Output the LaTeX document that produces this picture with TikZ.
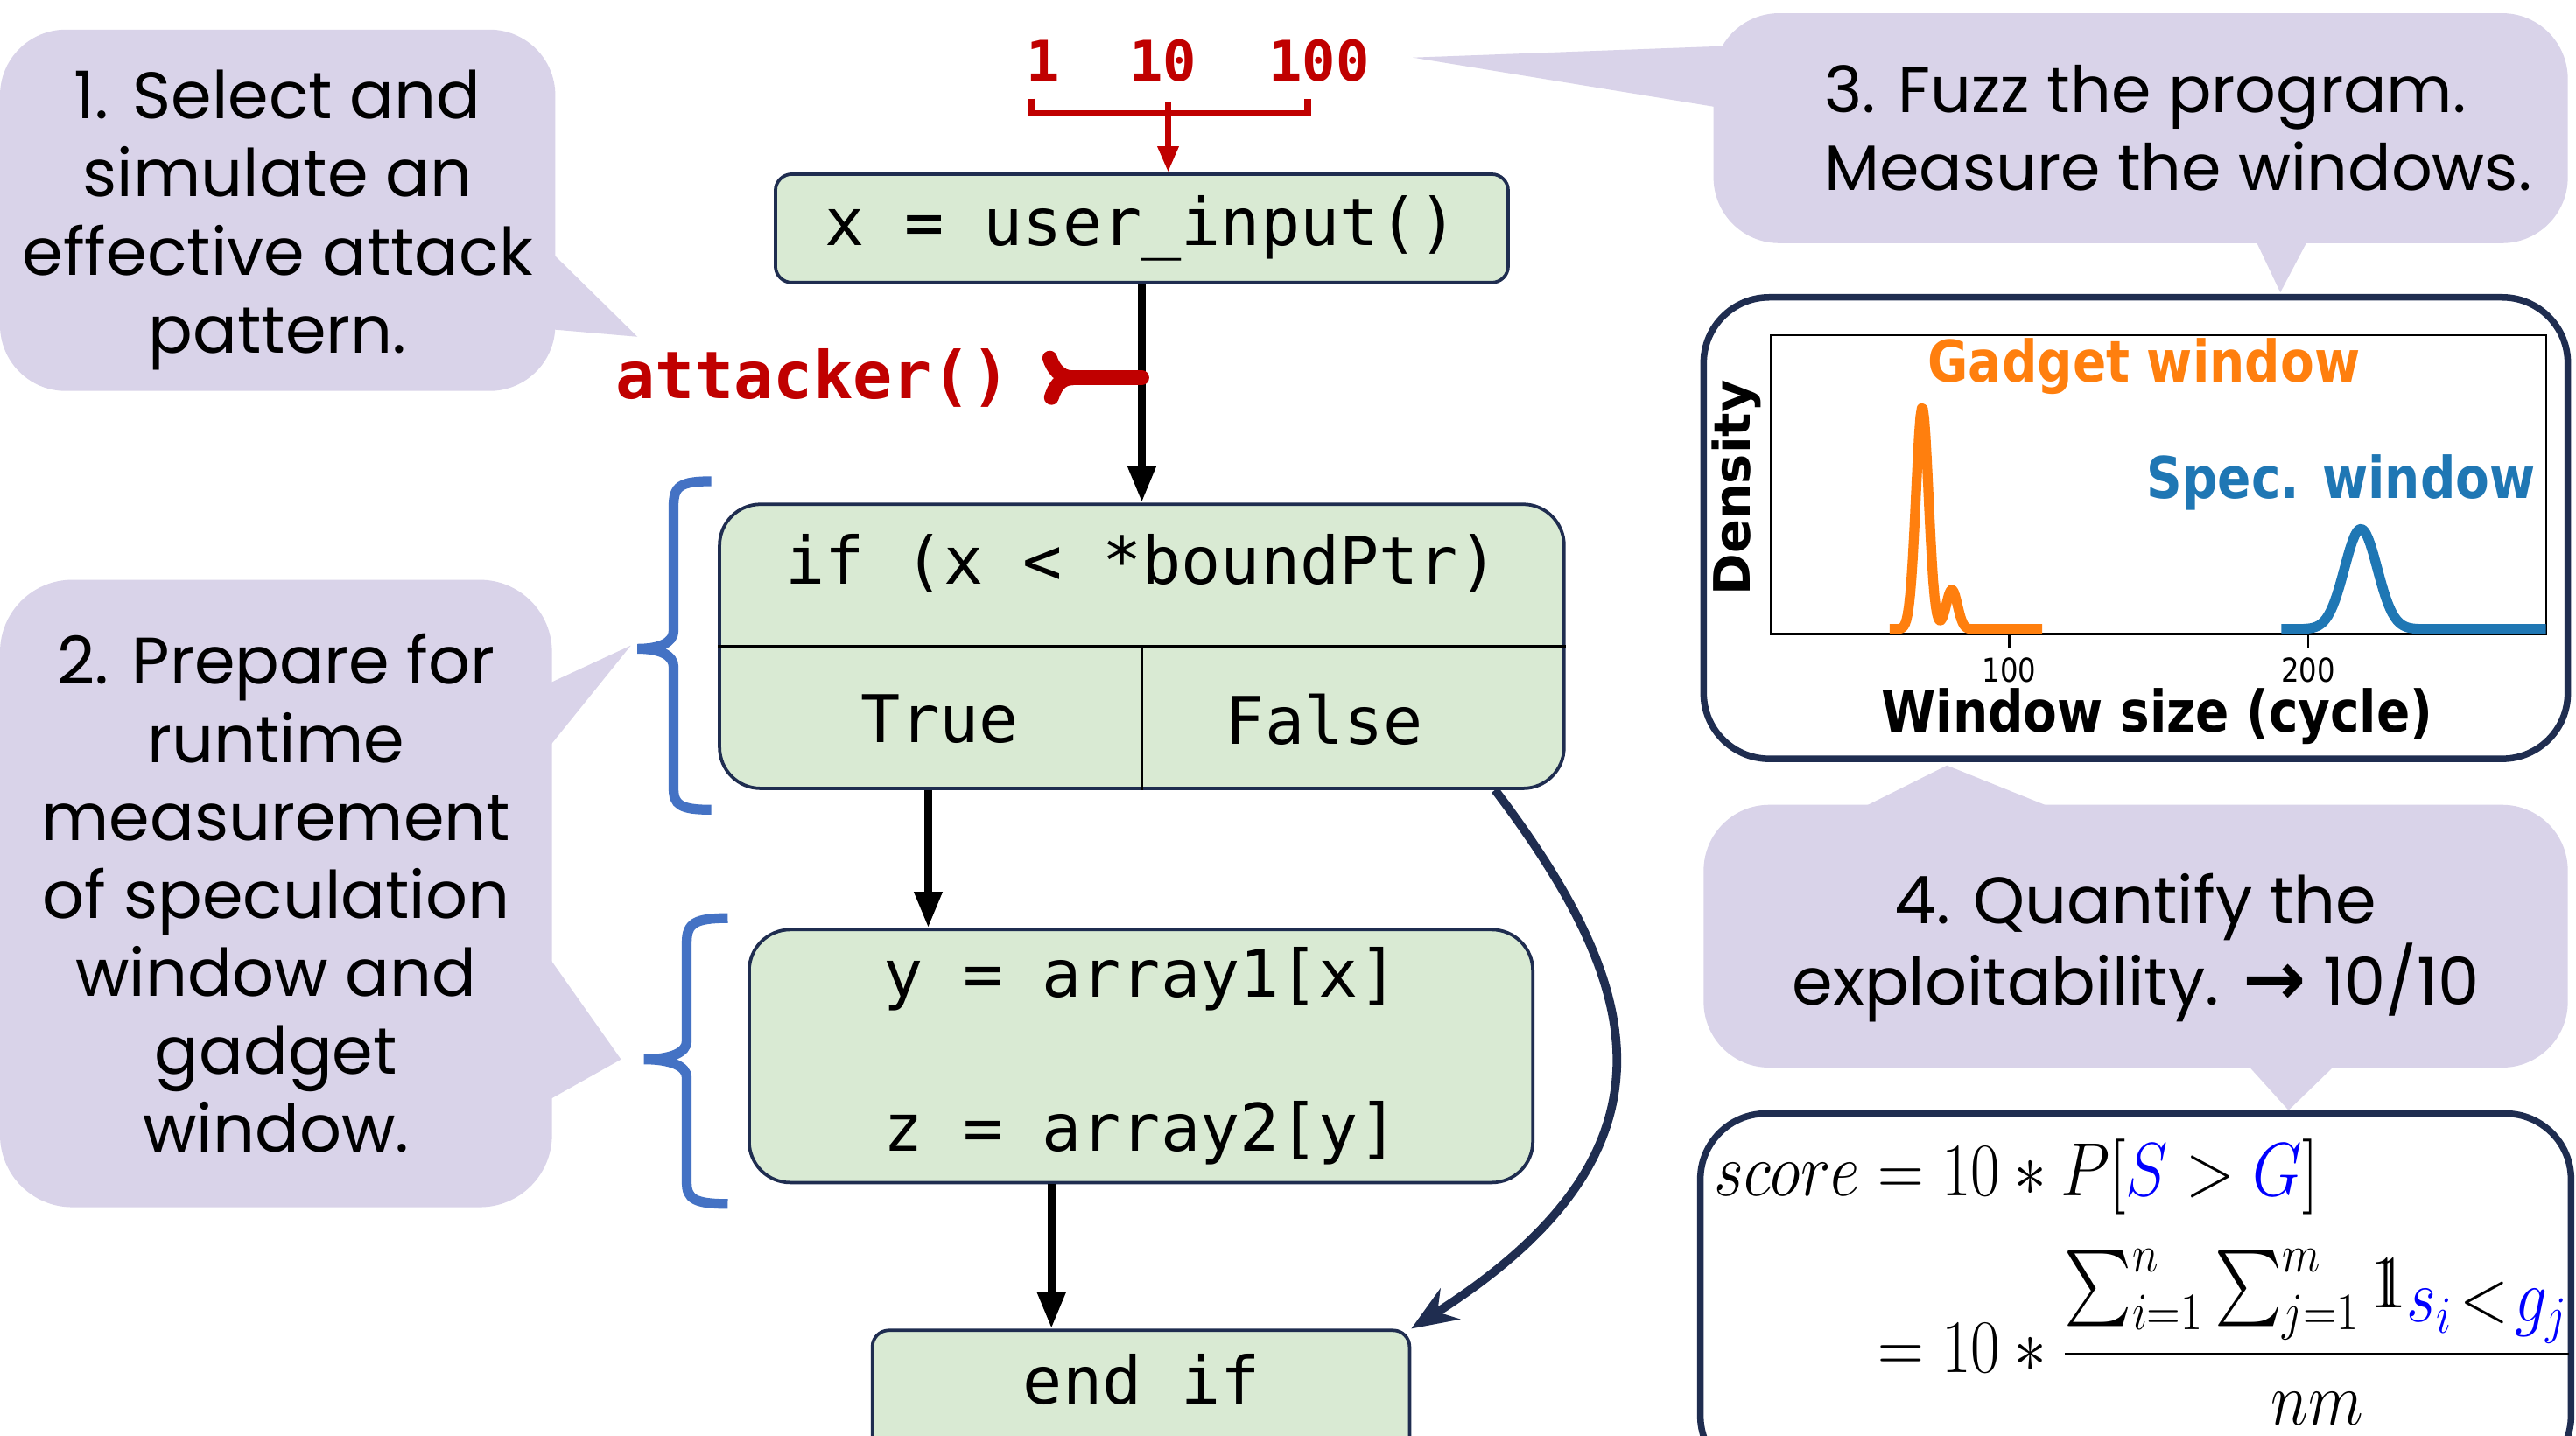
\documentclass[tikz,border=0pt]{standalone}
\usepackage[T1]{fontenc}
\usepackage{fontspec}
\usepackage{amsmath}
\usepackage{xcolor}
\IfFileExists{dsfont.sty}{\usepackage{dsfont}\newcommand\indic{\mathds{1}}}{\newcommand\indic{\mathrm{1}\mkern-6.5mu\mathrm{1}}}
\usetikzlibrary{arrows.meta,positioning}
\newfontfamily\codefont{DejaVu Sans Mono}
\newfontfamily\plotfont{DejaVu Sans}[FakeStretch=0.86]
\newfontfamily\symfont{DejaVu Sans}
\IfFileExists{t1qag.fd}{\newcommand\gothic{\fontencoding{T1}\fontfamily{qag}\selectfont}}{\newfontfamily\gothic{Poppins}}
\definecolor{bubblefill}{HTML}{D9D3E9}
\definecolor{codegreen}{HTML}{D9EAD3}
\definecolor{navy}{HTML}{1F2D50}
\definecolor{attackred}{HTML}{C00000}
\definecolor{braceblue}{HTML}{4472C4}
\definecolor{gadget}{HTML}{FF7F0E}
\definecolor{spec}{HTML}{1F77B4}

\begin{document}
\begin{tikzpicture}[x=0.5pt, y=-0.5pt,
    every node/.style={inner sep=0pt},
    bubble/.style={fill=bubblefill, rounded corners=20pt},
    steptext/.style={align=center, font=\gothic\fontsize{20}{23.75}\selectfont},
    codebox/.style={draw=navy, fill=codegreen, line width=1pt, rounded corners=5pt},
    code/.style={font=\codefont\fontsize{20}{24}\selectfont},
    ar/.style={-{Triangle[length=11pt,width=8pt]}, line width=2.5pt},
    redar/.style={-{Triangle[length=8pt,width=6pt]}, line width=2pt, attackred},
    navyar/.style={-{Stealth[length=14pt,width=11pt]}, line width=2.6pt, navy},
    fork/.style={line width=4.5pt, attackred, line cap=round},
    lbrace/.style={line width=3pt, braceblue},
    plotbox/.style={draw=navy, fill=white, line width=2pt, rounded corners=20pt},
    curve/.style={line width=3pt, line join=round},
    plotlbl/.style={font=\plotfont\bfseries\fontsize{17.5}{20}\selectfont}
  ]
  \useasboundingbox (0,0) rectangle (1568,874);
  \fill[white] (0,0) rectangle (1568,874);

  % speech bubbles
  \node[bubble, minimum width=169pt, minimum height=110pt] (step1) at (169,128) {};
  \node[steptext] (step1txt) at (169,134) {1. Select and\\simulate an\\effective attack\\pattern.};
  \fill[bubblefill] (330,148) -- (388,205) -- (330,200) -- cycle;
  \node[bubble, rounded corners=22pt, minimum width=168pt, minimum height=191pt] (step2) at (168,544) {};
  \node[steptext] (step2txt) at (168,544)
    {2. Prepare for\\runtime\\measurement\\of speculation\\window and\\gadget\\window.};
  \fill[bubblefill] (330,418) -- (384,393) -- (330,460) -- cycle;
  \fill[bubblefill] (330,577) -- (378,645) -- (330,672) -- cycle;
  \node[bubble, minimum width=260pt, minimum height=70pt] (step3) at (1303,78) {};
  \node[steptext, font=\gothic\fontsize{19.5}{23.75}\selectfont, anchor=west, align=left] (step3txt) at (1110,78)
    {3. Fuzz the program.\\Measure the windows.};
  \fill[bubblefill] (1050,28) -- (860,35) -- (1050,66) -- cycle;
  \fill[bubblefill] (1370,140) -- (1388,178) -- (1408,140) -- cycle;
  \node[bubble, minimum width=263pt, minimum height=80pt] (step4) at (1300,570) {};
  \node[steptext] (step4txt) at (1300,577)
    {4. Quantify the\\exploitability. {\symfont\bfseries\fontsize{23}{24}\selectfont →} 10/10};
  \fill[bubblefill] (1127,495) -- (1185,466) -- (1257,495) -- cycle;
  \fill[bubblefill] (1365,645) -- (1393,676) -- (1425,645) -- cycle;

  % program
  \node[code, font=\codefont\bfseries\fontsize{17}{20}\selectfont, attackred] (n1) at (635,37) {1};
  \node[code, font=\codefont\bfseries\fontsize{17}{20}\selectfont, attackred] (n10) at (708,37) {10};
  \node[code, font=\codefont\bfseries\fontsize{17}{20}\selectfont, attackred] (n100) at (803,37) {100};
  \coordinate (brk) at (711,62);
  \draw[line width=2pt, attackred] (628,60) -- (628,69) -- (796,69) -- (796,60);

  \node[codebox, code, minimum width=223pt, minimum height=33pt] (input) at (695,139) {x = user\_input()};
  \draw[redar] (brk) -- (brk |- input.north);

  \node[codebox, rounded corners=12.5pt, minimum width=257pt, minimum height=86.5pt] (cond) at (695,393.5) {};
  \draw[line width=1pt] (cond.west) -- (cond.east);
  \draw[line width=0.8pt] (cond.center) -- (cond.south);
  \node[code] (iftxt) at (695,343) {if (x < *boundPtr)};
  \node[code] (truetxt) at (572,438) {True};
  \node[code] (falsetxt) at (806,438) {False};

  \node[codebox, code, rounded corners=12.5pt, minimum width=238.5pt, minimum height=77pt,
        align=center, font=\codefont\fontsize{20}{47}\selectfont] (body) at (694.5,643)
    {y = array1[x]\\z = array2[y]};
  \node[codebox, minimum width=163.5pt, minimum height=45pt] (endif) at (694.5,855) {};
  \node[code] (endtxt) at (695,840) {end if};

  \draw[ar] (input.south) -- (cond.north);
  \coordinate (tx) at (565,0);
  \draw[ar] (cond.south -| tx) -- (body.north -| tx);
  \coordinate (ex) at (640,0);
  \draw[ar] (body.south -| ex) -- (endif.north -| ex);
  \coordinate (fx) at (910,0);
  \draw[navyar] (cond.south -| fx) .. controls (1000,600) and (1030,700) .. (endif.north east);

  % attacker hook
  \node[code, font=\codefont\bfseries\fontsize{20}{24}\selectfont, attackred] (atk) at (495,230) {attacker()};
  \coordinate (hit) at (input.south |- atk);
  \draw[fork] (hit) -- ++(-42,0) coordinate (fk);
  \draw[fork] (fk) .. controls +(-8,0) and +(2,6) .. ++(-14,-12);
  \draw[fork] (fk) .. controls +(-8,0) and +(2,-6) .. ++(-13,12);

  % braces
  \draw[lbrace] (433,293) .. controls (414,293) and (410,296) .. (410,308) -- (410,384)
    .. controls (410,391) and (402,395) .. (388,395) .. controls (402,395) and (410,399) .. (410,406)
    -- (410,480) .. controls (410,490) and (414,493) .. (433,493);
  \draw[lbrace] (443,559) .. controls (423,559) and (418,562) .. (418,574) -- (418,634)
    .. controls (418,641) and (408,645) .. (392,645) .. controls (408,645) and (418,649) .. (418,656)
    -- (418,720) .. controls (418,730) and (423,733) .. (443,733);

  % window plot
  \node[plotbox, minimum width=263pt, minimum height=140.5pt] (plot) at (1300,321.5) {};
  \draw[line width=0.6pt] (1078,204) rectangle (1550,386);
  \foreach \t/\px in {100/1223,200/1405}{
    \draw[line width=0.6pt] (\px,386) -- (\px,395);
    \node[font=\plotfont\fontsize{10}{11}\selectfont] (tick\t) at (\px,408) {\t};
  }
  \begin{scope}[shift={(1223,383)}, x=0.91pt, y=0.5pt]
    \draw[curve, gadget] plot[domain=-40:11, samples=120]
      (\x, {135*exp(-min(((\x+29.1)^2)/8.8,20)) + 24*exp(-min(((\x+19.2)^2)/7.2,20))});
    \draw[curve, spec] plot[domain=91:179.5, samples=120]
      (\x, {61*exp(-min(((\x-117.6)^2)/60,20))});
  \end{scope}
  \node[plotlbl, gadget] (gadgetlbl) at (1305,223) {Gadget window};
  \node[plotlbl, spec] (speclbl) at (1425,294) {Spec. window};
  \node[font=\symfont\bfseries\fontsize{15.3}{18}\selectfont, rotate=90] (ylbl) at (1057,297) {Density};
  \node[plotlbl] (xlbl) at (1313,436) {Window size (cycle)};

  % score
  \node[plotbox, minimum width=265pt, minimum height=112pt] (formbox) at (1300,790) {};
  \node[anchor=north west] (score) at (1043,689)
    {\scalebox{0.94}[1.11]{\fontsize{20.74}{25}\selectfont$\displaystyle\begin{aligned}
      score &= 10 * P[\textcolor{blue}{S} > \textcolor{blue}{G}]\\[3pt]
      &= 10 * \frac{\sum_{i=1}^{n}\sum_{j=1}^{m}
         \indic_{\textstyle\textcolor{blue}{s_i}\!<\!\textcolor{blue}{g_j}}}{nm}\end{aligned}$}};
\end{tikzpicture}
\end{document}
